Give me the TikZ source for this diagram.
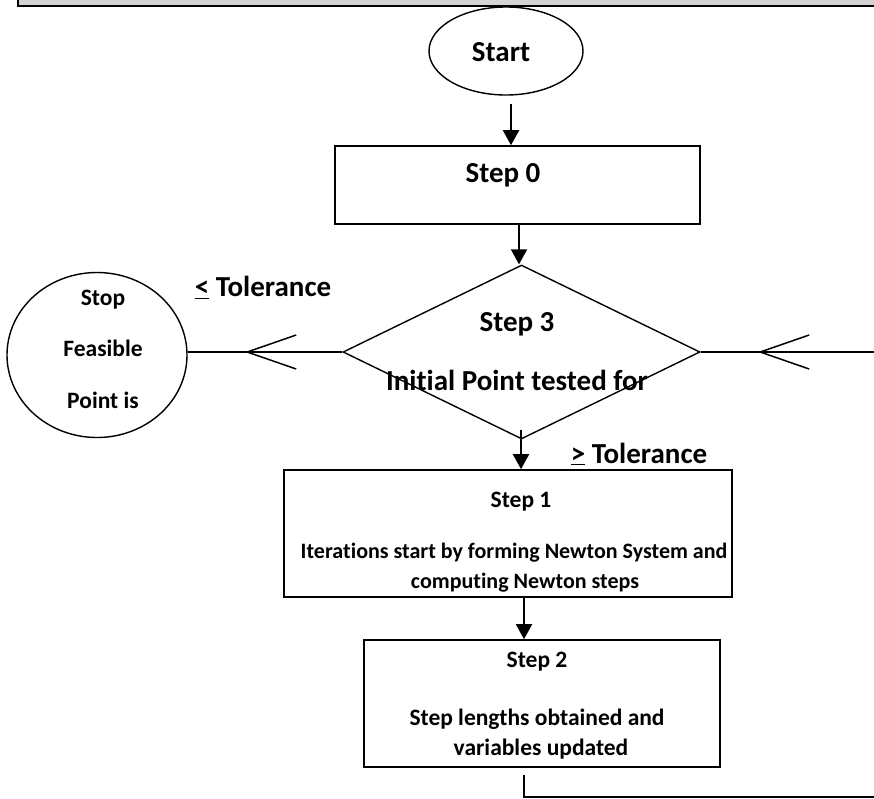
\documentclass[tikz,border=0pt]{standalone}
\usepackage{fontspec}
\setmainfont[Ligatures={NoCommon,NoContextual}]{Carlito}
\usetikzlibrary{shapes.geometric,arrows.meta,decorations.markings}
\begin{document}
\begin{tikzpicture}[x=1pt,y=-1pt,
  big/.style={font=\fontsize{29}{34}\selectfont\bfseries, inner sep=0pt, anchor=base},
  small/.style={font=\fontsize{23.5}{28}\selectfont\bfseries, inner sep=0pt, anchor=base},
  smaller/.style={font=\fontsize{22}{26}\selectfont\bfseries, inner sep=0pt, anchor=base},
  box/.style={draw, line width=1.6pt, inner sep=0pt},
  shp/.style={draw, line width=1.4pt, inner sep=0pt},
  arr/.style={line width=2pt, -{Triangle[width=16pt,length=15pt]}},
  conn/.style={line width=1.4pt},
  barb/.style={postaction=decorate, decoration={markings,
      mark=at position #1 with {\arrow{Straight Barb[length=49pt,width=34pt,line width=1.5pt]}}}}
]
\useasboundingbox (0,0) rectangle (874,798);
\fill[white] (0,0) rectangle (874,798);
% top band
\node[draw, fill=black!17, line width=1.8pt, minimum width=880pt, minimum height=24pt,
      anchor=south west, inner sep=0pt] (band) at (17,6.5) {};
% Start
\node[shp, ellipse, minimum width=154pt, minimum height=88pt] (start) at (506,51) {};
\node[big] (starttxt) at (501,61.5) {Start};
% Step 0
\node[box, minimum width=365pt, minimum height=78pt] (s0) at (517.5,185) {};
\node[big] (s0txt) at (503,182) {Step 0};
% Diamond
\node[shp, diamond, minimum width=357pt, minimum height=174pt] (dia) at (521.5,352) {};
\node[big] (d1) at (517,331) {Step 3};
\node[big] (d2) at (517,390) {Ini\kern0pt tial Point tested for};
% Stop ellipse
\node[shp, ellipse, minimum width=180pt, minimum height=165pt] (stop) at (97,355) {};
\node[small] (st1) at (103,305) {Stop};
\node[small] (st2) at (103,356) {Feasible};
\node[small] (st3) at (103,408) {Point is};
% Step 1
\node[box, minimum width=448pt, minimum height=127pt] (s1) at (508,533.5) {};
\node[small] (s1a) at (521,507) {Step 1};
\node[smaller] (s1b) at (514,558) {Itera\kern0pt tions start by forming Newton System and};
\node[smaller] (s1c) at (525,588) {computing Newton steps};
% Step 2
\node[box, minimum width=356pt, minimum height=127pt] (s2) at (542,703.5) {};
\node[small] (s2a) at (537,667) {Step 2};
\node[small] (s2b) at (537,725) {Step lengths obtained and};
\node[small] (s2c) at (541,755) {variables updated};
% labels
\node[big] (le) at (263,296.5) {\underline{<} Tolerance};
\node[big] (ge) at (639,463) {\underline{>} Tolerance};
% connectors
\draw[arr] ([xshift=5pt,yshift=-8pt]start.south) -- ([xshift=-6.5pt]s0.north);
\draw[arr] ([xshift=1.5pt]s0.south) -- ([xshift=-2.5pt]dia.north);
\draw[arr] ([xshift=-0.5pt,yshift=10pt]dia.south) -- ([xshift=13pt]s1.north);
\draw[arr] ([xshift=16pt]s1.south) -- ([xshift=-18pt]s2.north);
\draw[conn, barb=0.63] (dia.west) -- (dia.west -| stop.east);
\coordinate (rin) at (874,352);
\draw[conn, barb=0.67] (rin) -- (dia.east);
\coordinate (lb1) at (524,775);
\coordinate (lb2) at (874,797);
\draw[conn] (lb1) |- (lb2);
\end{tikzpicture}
\end{document}
